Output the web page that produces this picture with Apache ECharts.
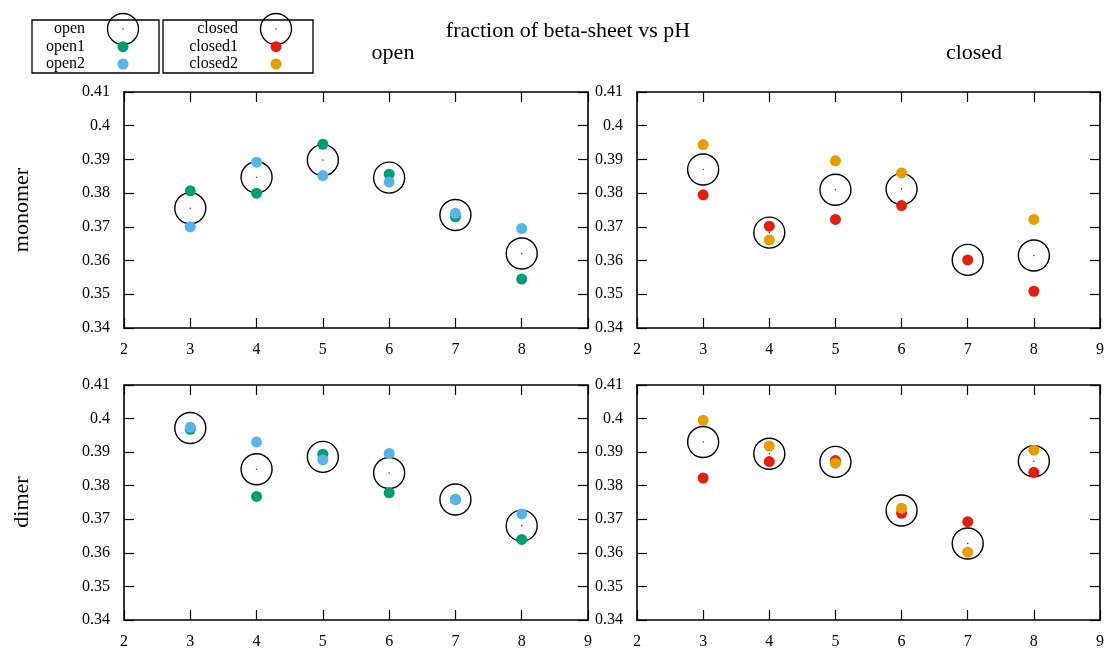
<!DOCTYPE html>
<html><head><meta charset="utf-8">
<script src="https://cdn.jsdelivr.net/npm/echarts@6/dist/echarts.min.js"></script>
<style>html,body{margin:0;padding:0;background:#fff}#c{width:1107px;height:650px}</style>
</head><body><div id="c"></div>
<script>
const pH = [3, 4, 5, 6, 7, 8];
const xTicks = [2, 3, 4, 5, 6, 7, 8, 9];
const yTicks = [0.34, 0.35, 0.36, 0.37, 0.38, 0.39, 0.4, 0.41];

const monoOpen    = [0.3755, 0.3847, 0.3898, 0.3846, 0.3735, 0.3621];
const monoOpen1   = [0.3807, 0.3800, 0.3945, 0.3856, 0.3730, 0.3545];
const monoOpen2   = [0.3700, 0.3892, 0.3852, 0.3833, 0.3740, 0.3695];
const monoClosed  = [0.3870, 0.3683, 0.3810, 0.3812, 0.3602, 0.3615];
const monoClosed1 = [0.3795, 0.3702, 0.3722, 0.3763, 0.3602, 0.3509];
const monoClosed2 = [0.3944, 0.3661, 0.3896, 0.3860, null, 0.3722];
const dimOpen     = [0.3972, 0.3849, 0.3886, 0.3838, 0.3759, 0.3681];
const dimOpen1    = [0.3968, 0.3768, 0.3894, 0.3779, 0.3759, 0.3640];
const dimOpen2    = [0.3974, 0.3930, 0.3877, 0.3896, 0.3759, 0.3716];
const dimClosed   = [0.3930, 0.3895, 0.3871, 0.3726, 0.3628, 0.3873];
const dimClosed1  = [0.3823, 0.3872, 0.3875, 0.3718, 0.3693, 0.3840];
const dimClosed2  = [0.3995, 0.3918, 0.3867, 0.3733, 0.3602, 0.3906];

const titleText = 'fraction of beta-sheet vs pH';
const colTitles = ['open', 'closed'];
const rowTitles = ['monomer', 'dimer'];
const legendOpen = ['open', 'open1', 'open2'];
const legendClosed = ['closed', 'closed1', 'closed2'];

const FONT = '"Liberation Serif", "DejaVu Serif", serif';
const C = {open1: '#009e73', open2: '#56b4e9', closed1: '#e51e10', closed2: '#e69f00'};

const grids = [
  {left: 124, top: 92, width: 464, height: 236},
  {left: 637, top: 92, width: 464, height: 236},
  {left: 124, top: 385, width: 464, height: 236},
  {left: 637, top: 385, width: 464, height: 236}
];

const xMin = xTicks[0], xMax = xTicks[xTicks.length - 1];
const yMin = yTicks[0], yMax = yTicks[yTicks.length - 1];

const xAxis = [], yAxis = [];
const lineStyle = {color: '#000', width: 1.6};
const tickStyle = {show: true, inside: true, length: 10, lineStyle: {color: '#000', width: 1.2}};
grids.forEach((g, i) => {
  xAxis.push({type: 'value', gridIndex: i, position: 'bottom', min: xMin, max: xMax, interval: 1,
    axisLine: {show: true, onZero: false, lineStyle}, axisTick: tickStyle, splitLine: {show: false},
    axisLabel: {show: true, color: '#000', fontFamily: FONT, fontSize: 16, margin: 14}});
  xAxis.push({type: 'value', gridIndex: i, position: 'top', min: xMin, max: xMax, interval: 1,
    axisLine: {show: true, onZero: false, lineStyle}, axisTick: tickStyle, splitLine: {show: false},
    axisLabel: {show: false}});
  yAxis.push({type: 'value', gridIndex: i, position: 'left', min: yMin, max: yMax, interval: 0.01,
    axisLine: {show: true, onZero: false, lineStyle}, axisTick: tickStyle, splitLine: {show: false},
    axisLabel: {show: true, color: '#000', fontFamily: FONT, fontSize: 16, margin: 14,
      formatter: v => String(+v.toFixed(2))}});
  yAxis.push({type: 'value', gridIndex: i, position: 'right', min: yMin, max: yMax, interval: 0.01,
    axisLine: {show: true, onZero: false, lineStyle}, axisTick: tickStyle, splitLine: {show: false},
    axisLabel: {show: false}});
});

function pts(arr) { return pH.map((x, i) => arr[i] == null ? null : [x, arr[i]]).filter(d => d); }

const panels = [
  [monoOpen, monoOpen1, monoOpen2, C.open1, C.open2],
  [monoClosed, monoClosed1, monoClosed2, C.closed1, C.closed2],
  [dimOpen, dimOpen1, dimOpen2, C.open1, C.open2],
  [dimClosed, dimClosed1, dimClosed2, C.closed1, C.closed2]
];

const series = [];
panels.forEach((p, i) => {
  const xi = i * 2, yi = i * 2;
  series.push({type: 'scatter', xAxisIndex: xi, yAxisIndex: yi, data: pts(p[0]), symbol: 'circle', symbolSize: 31,
    itemStyle: {color: 'rgba(0,0,0,0)', borderColor: '#000', borderWidth: 1.4, opacity: 1}, z: 2, silent: true});
  series.push({type: 'scatter', xAxisIndex: xi, yAxisIndex: yi, data: pts(p[0]), symbol: 'circle', symbolSize: 1.6,
    itemStyle: {color: '#444', opacity: 1}, z: 2, silent: true});
  series.push({type: 'scatter', xAxisIndex: xi, yAxisIndex: yi, data: pts(p[1]), symbol: 'circle', symbolSize: 11,
    itemStyle: {color: p[3], opacity: 1}, z: 3, silent: true});
  series.push({type: 'scatter', xAxisIndex: xi, yAxisIndex: yi, data: pts(p[2]), symbol: 'circle', symbolSize: 11,
    itemStyle: {color: p[4], opacity: 1}, z: 4, silent: true});
});

const txt = (x, y, text, size, align, extra) => Object.assign({type: 'text', x, y,
  style: {text, fill: '#000', font: size + 'px ' + FONT, textAlign: align || 'center', textVerticalAlign: 'middle'}}, extra || {});

const graphic = [
  txt(568, 31, titleText, 22),
  txt(393, 53, colTitles[0], 22),
  txt(974, 53, colTitles[1], 22),
  txt(22, 210, rowTitles[0], 22, 'center', {rotation: Math.PI / 2}),
  txt(22, 502, rowTitles[1], 22, 'center', {rotation: Math.PI / 2}),
  {type: 'rect', shape: {x: 32, y: 20, width: 127, height: 53}, style: {fill: 'none', stroke: '#000', lineWidth: 1.3}},
  {type: 'rect', shape: {x: 163, y: 20, width: 150, height: 53}, style: {fill: 'none', stroke: '#000', lineWidth: 1.3}}
];
const rowsY = [29, 46.7, 64];
[[legendOpen, 85, 123, [C.open1, C.open2]], [legendClosed, 238, 276, [C.closed1, C.closed2]]].forEach(([names, tx, cx, cols]) => {
  names.forEach((n, k) => graphic.push(txt(tx, rowsY[k], n, 16, 'right')));
  graphic.push({type: 'circle', shape: {cx, cy: rowsY[0], r: 15.5}, style: {fill: 'none', stroke: '#000', lineWidth: 1.3}, z: 10});
  graphic.push({type: 'circle', shape: {cx, cy: rowsY[0], r: 0.8}, style: {fill: '#444'}, z: 10});
  graphic.push({type: 'circle', shape: {cx, cy: rowsY[1], r: 5.5}, style: {fill: cols[0]}, z: 11});
  graphic.push({type: 'circle', shape: {cx, cy: rowsY[2], r: 5.5}, style: {fill: cols[1]}, z: 11});
});

const chart = echarts.init(document.getElementById('c'), null, {renderer: 'canvas'});
chart.setOption({
  animation: false,
  backgroundColor: '#fff',
  grid: grids,
  xAxis, yAxis, series, graphic
});
</script></body></html>
